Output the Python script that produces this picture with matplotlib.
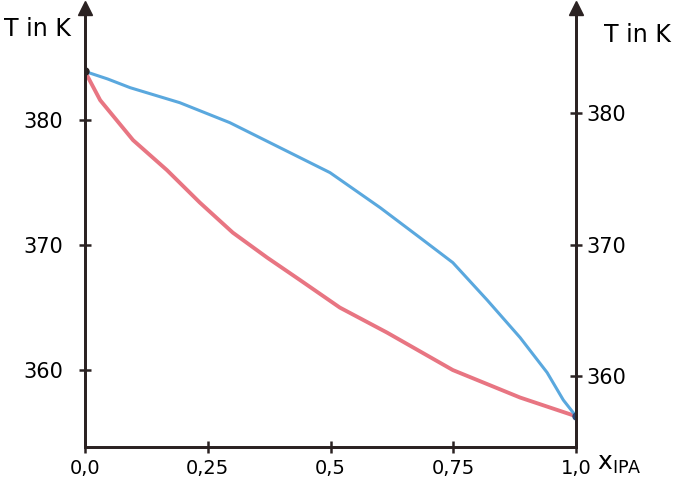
import matplotlib.pyplot as plt

# boiling curve (liquid) and dew curve (vapour), T in K over x_IPA
x_dew = [0.0, 0.046, 0.092, 0.193, 0.295, 0.397, 0.499, 0.601, 0.682, 0.749, 0.819, 0.886, 0.941, 0.974, 1.0]
T_dew = [383.9, 383.3, 382.6, 381.4, 379.8, 377.8, 375.8, 373.0, 370.6, 368.6, 365.6, 362.6, 359.8, 357.6, 356.3]

x_boil = [0.0, 0.031, 0.098, 0.167, 0.234, 0.301, 0.371, 0.438, 0.519, 0.615, 0.749, 0.886, 1.0]
T_boil = [383.9, 381.6, 378.4, 376.0, 373.4, 371.0, 369.0, 367.2, 365.0, 363.0, 360.0, 357.8, 356.3]

x_ticks = [0.0, 0.25, 0.5, 0.75, 1.0]
x_labels = ['0,0', '0,25', '0,5', '0,75', '1,0']
T_ticks = [360, 370, 380]

ink = '#2b2222'
blue = '#5aa8de'
red = '#e87582'

fig = plt.figure(figsize=(6.85, 4.83), dpi=100)
ax = fig.add_axes([0.124, 0.0745, 0.717, 0.9085])
ax2 = ax.twinx()

ax.plot(x_dew, T_dew, color=blue, lw=2.2, solid_capstyle='round', solid_joinstyle='round', zorder=3)
ax.plot(x_boil, T_boil, color=red, lw=2.8, solid_capstyle='round', solid_joinstyle='round', zorder=2)
ax.plot([x_dew[0]], [T_dew[0]], 'o', color=ink, ms=5, zorder=4)
ax.plot([x_dew[-1]], [T_dew[-1]], 'o', color='#2b4a7a', ms=5, zorder=4)

ax.set_xlim(0, 1)
ax.set_ylim(353.84, 388.96)
ax2.set_ylim(354.6, 387.98)

for a in (ax, ax2):
    for s in a.spines.values():
        s.set_color(ink)
        s.set_linewidth(2.0)
    a.spines['top'].set_visible(False)

ax.set_xticks(x_ticks)
ax.set_xticklabels(x_labels)
ax.set_yticks(T_ticks)
ax2.set_yticks(T_ticks)
ax.tick_params(axis='both', direction='inout', length=9, width=1.8, color=ink,
               labelsize=15, labelcolor='black')
ax.tick_params(axis='y', pad=11)
ax.tick_params(axis='x', pad=4, labelsize=14)
ax2.tick_params(axis='y', direction='inout', length=9, width=1.8, color=ink,
                labelsize=15, labelcolor='black', pad=3)

# arrow heads on the vertical axes
ax.plot([0], [1.0], marker='^', ms=10, color=ink, transform=ax.transAxes, clip_on=False)
ax.plot([1], [1.0], marker='^', ms=10, color=ink, transform=ax.transAxes, clip_on=False)

fig.text(0.006, 0.94, 'T in K', fontsize=17, ha='left', va='center')
fig.text(0.882, 0.928, 'T in K', fontsize=17, ha='left', va='center')
fig.text(0.872, 0.04, r'x$_{\mathrm{IPA}}$', fontsize=18, ha='left', va='center')

fig.savefig('out.png', dpi=100)
